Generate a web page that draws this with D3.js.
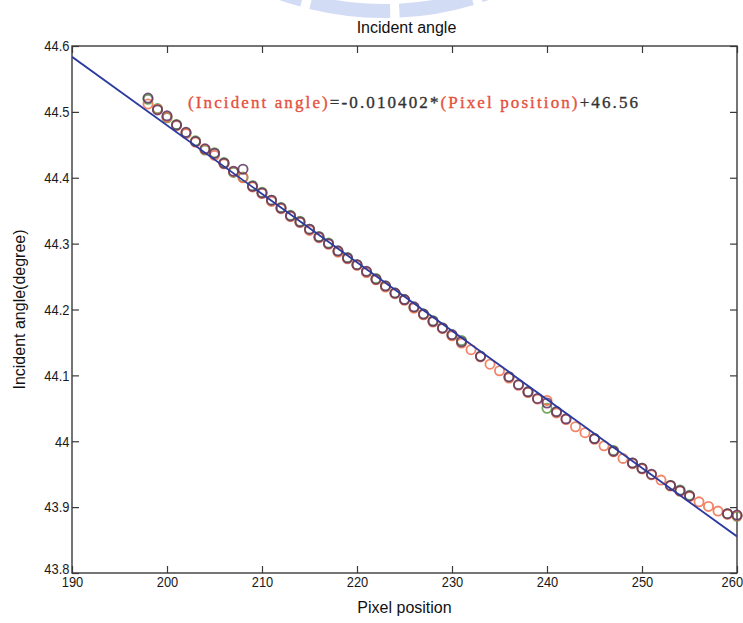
<!DOCTYPE html>
<html>
<head>
<meta charset="utf-8">
<script src="https://cdn.jsdelivr.net/npm/d3@7/dist/d3.min.js"></script>
<style>
  body { margin: 0; background: #fff; }
  svg { display: block; }
</style>
</head>
<body>
<svg id="chart" width="743" height="623"></svg>
<script>
// Axis ticks
const xTicks = [190, 200, 210, 220, 230, 240, 250, 260];
const yTicks = [43.8, 43.9, 44.0, 44.1, 44.2, 44.3, 44.4, 44.5, 44.6];

// Linear fit: angle = slope * pixel + intercept
const fitSlope = -0.010402;
const fitIntercept = 46.56;
const fitRange = [190, 260];

// Measurement runs (pixel position -> incident angle, degrees)
const redPixels = [198,199,200,201,202,203,204,205,206,207,208,209,210,211,212,213,214,215,216,217,218,219,220,221,222,223,224,225,226,227,228,229,230,231,232,233,234,235,236,237,238,239,240,241,242,243,244,245,246,247,248,249,250,251,252,253,254,255,256,257,258,259,260];
const redAngles = [44.512,44.504,44.492,44.479,44.467,44.454,44.443,44.434,44.421,44.409,44.400,44.386,44.376,44.364,44.353,44.341,44.332,44.320,44.309,44.299,44.287,44.277,44.267,44.256,44.245,44.234,44.224,44.214,44.202,44.192,44.181,44.171,44.160,44.149,44.139,44.128,44.117,44.107,44.096,44.085,44.074,44.064,44.062,44.043,44.033,44.022,44.013,44.003,43.993,43.984,43.974,43.966,43.958,43.949,43.941,43.932,43.924,43.916,43.908,43.901,43.894,43.889,43.887];

const greenPixels = [198,199,200,201,202,203,204,205,206,207,208,209,210,211,212,213,214,215,216,217,218,219,220,221,222,223,224,225,226,227,228,229,230,231,233,236,238,240,241,245,247,249,250,253,254,255,259,260];
const greenAngles = [44.519,44.505,44.491,44.481,44.468,44.456,44.442,44.438,44.423,44.408,44.401,44.388,44.378,44.366,44.355,44.343,44.334,44.322,44.311,44.301,44.288,44.279,44.268,44.257,44.247,44.235,44.225,44.215,44.203,44.193,44.183,44.172,44.161,44.153,44.129,44.097,44.075,44.050,44.044,44.004,43.986,43.967,43.959,43.933,43.926,43.918,43.890,43.886];

const bluePixels = [198,199,200,201,202,203,204,205,206,207,208,209,210,211,212,213,214,215,216,217,218,219,220,221,222,223,224,225,226,227,228,229,230,231,233,236,237,238,239,240,241,242,245,247,249,250,251,253,254,255,259,260];
const blueAngles = [44.521,44.503,44.494,44.480,44.469,44.455,44.444,44.437,44.422,44.410,44.413,44.387,44.377,44.366,44.354,44.342,44.333,44.322,44.310,44.300,44.289,44.278,44.268,44.258,44.246,44.236,44.225,44.215,44.204,44.193,44.182,44.172,44.162,44.151,44.129,44.098,44.086,44.075,44.065,44.058,44.045,44.034,44.004,43.985,43.967,43.959,43.950,43.933,43.925,43.917,43.890,43.888];

const runs = [
  { name: "run3", pixels: greenPixels, angles: greenAngles, color: "#5a9a48" },
  { name: "run1", pixels: redPixels,   angles: redAngles,   color: "#ef6f4b" },
  { name: "run2", pixels: bluePixels,  angles: blueAngles,  color: "#5c3563" }
];

const svg = d3.select("#chart");
const W = 743, H = 623;
const plot = { left: 72, right: 737, top: 46, bottom: 573 };

const x = d3.scaleLinear().domain([190, 260]).range([plot.left, plot.right]);
const y = d3.scaleLinear().domain([43.8, 44.6]).range([plot.bottom, plot.top]);

svg.append("rect").attr("width", W).attr("height", H).attr("fill", "#fff");

// faint emblem at the top edge
const emblem = svg.append("g").attr("fill", "#b7c5ef").attr("opacity", 0.6);
const arcGen = d3.arc().innerRadius(300).outerRadius(314);
const segs = [[-0.46, -0.32], [-0.29, -0.05], [-0.02, 0.24], [0.27, 0.44]];
segs.forEach(s => {
  emblem.append("path")
    .attr("transform", "translate(384,-296) rotate(180)")
    .attr("d", arcGen({ startAngle: s[0], endAngle: s[1] }));
});

// title
svg.append("text")
  .attr("x", (plot.left + plot.right) / 2 + 2)
  .attr("y", 33)
  .attr("text-anchor", "middle")
  .attr("font-family", "Liberation Sans, Arial, sans-serif")
  .attr("font-size", 16)
  .attr("fill", "#111")
  .text("Incident angle");

// axes box with inward ticks (all four sides)
const axisColor = "#3a3a3a";
const tickLen = 7;
const gAx = svg.append("g");

const bottomAxis = d3.axisBottom(x).tickValues(xTicks).tickSize(-tickLen).tickPadding(5).tickFormat(d3.format("d"));
const topAxis = d3.axisTop(x).tickValues(xTicks).tickSize(-tickLen).tickFormat("");
const leftAxis = d3.axisLeft(y).tickValues(yTicks).tickSize(-tickLen).tickPadding(3).tickFormat(d => d3.format(".1f")(d).replace(/\.0$/, ""));
const rightAxis = d3.axisRight(y).tickValues(yTicks).tickSize(-tickLen).tickFormat("");

function styleAxis(g) {
  g.select(".domain").remove();
  g.selectAll(".tick line").attr("stroke", axisColor).attr("stroke-width", 1.2);
  g.selectAll(".tick text")
    .attr("font-family", "Liberation Sans, Arial, sans-serif")
    .attr("font-size", 15)
    .attr("fill", "#1a1a1a")
    .attr("transform", "scale(0.86,1)");
}

const gBottom = gAx.append("g").attr("transform", `translate(0,${plot.bottom})`).call(bottomAxis).call(styleAxis);
gBottom.selectAll(".tick text").attr("dy", "0.62em");
// keep the last label inside the page
gBottom.selectAll(".tick text").filter(d => d === xTicks[xTicks.length - 1]).attr("x", -6);
gAx.append("g").attr("transform", `translate(0,${plot.top})`).call(topAxis).call(styleAxis);
const gLeft = gAx.append("g").attr("transform", `translate(${plot.left},0)`).call(leftAxis).call(styleAxis);
// lift the lowest label clear of the first x label
gLeft.selectAll(".tick text").filter(d => d === yTicks[0]).attr("dy", "0.05em");
gAx.append("g").attr("transform", `translate(${plot.right},0)`).call(rightAxis).call(styleAxis);

gAx.append("rect")
  .attr("x", plot.left).attr("y", plot.top)
  .attr("width", plot.right - plot.left).attr("height", plot.bottom - plot.top)
  .attr("fill", "none").attr("stroke", axisColor).attr("stroke-width", 1.4);

// measured points
svg.append("clipPath").attr("id", "plotClip").append("rect")
  .attr("x", plot.left).attr("y", plot.top)
  .attr("width", plot.right - plot.left).attr("height", plot.bottom - plot.top);

const pts = svg.append("g");
runs.forEach(run => {
  const data = run.pixels.map((p, i) => ({ p, a: run.angles[i] }));
  pts.append("g").attr("class", run.name)
    .selectAll("circle").data(data).join("circle")
    .attr("cx", d => x(d.p))
    .attr("cy", d => y(d.a))
    .attr("r", 4.6)
    .attr("fill", "none")
    .attr("stroke", run.color)
    .attr("stroke-width", 1.8)
    .attr("stroke-opacity", 0.85);
});

// fitted line
const fitData = fitRange.map(p => ({ p, a: fitSlope * p + fitIntercept }));
svg.append("path")
  .datum(fitData)
  .attr("clip-path", "url(#plotClip)")
  .attr("d", d3.line().x(d => x(d.p)).y(d => y(d.a)))
  .attr("fill", "none")
  .attr("stroke", "#2b3a9e")
  .attr("stroke-width", 1.8);

// fit equation
const eq = svg.append("text")
  .attr("x", 188).attr("y", 108)
  .attr("font-family", "Liberation Serif, DejaVu Serif, serif")
  .attr("font-size", 17)
  .attr("stroke-width", 0.35)
  .attr("textLength", 450)
  .attr("lengthAdjust", "spacing");
eq.append("tspan").attr("fill", "#e5503c").attr("stroke", "#e5503c").text("(Incident angle)");
eq.append("tspan").attr("fill", "#333").attr("stroke", "#333").text("=" + fitSlope.toFixed(6) + "*");
eq.append("tspan").attr("fill", "#e5503c").attr("stroke", "#e5503c").text("(Pixel position)");
eq.append("tspan").attr("fill", "#333").attr("stroke", "#333").text("+" + fitIntercept.toFixed(2));

// axis labels
svg.append("text")
  .attr("x", (plot.left + plot.right) / 2)
  .attr("y", 613)
  .attr("text-anchor", "middle")
  .attr("font-family", "Liberation Sans, Arial, sans-serif")
  .attr("font-size", 16)
  .attr("fill", "#111")
  .text("Pixel position");

svg.append("text")
  .attr("transform", `translate(25,${(plot.top + plot.bottom) / 2}) rotate(-90)`)
  .attr("text-anchor", "middle")
  .attr("font-family", "Liberation Sans, Arial, sans-serif")
  .attr("font-size", 16)
  .attr("fill", "#111")
  .text("Incident angle(degree)");
</script>
</body>
</html>
